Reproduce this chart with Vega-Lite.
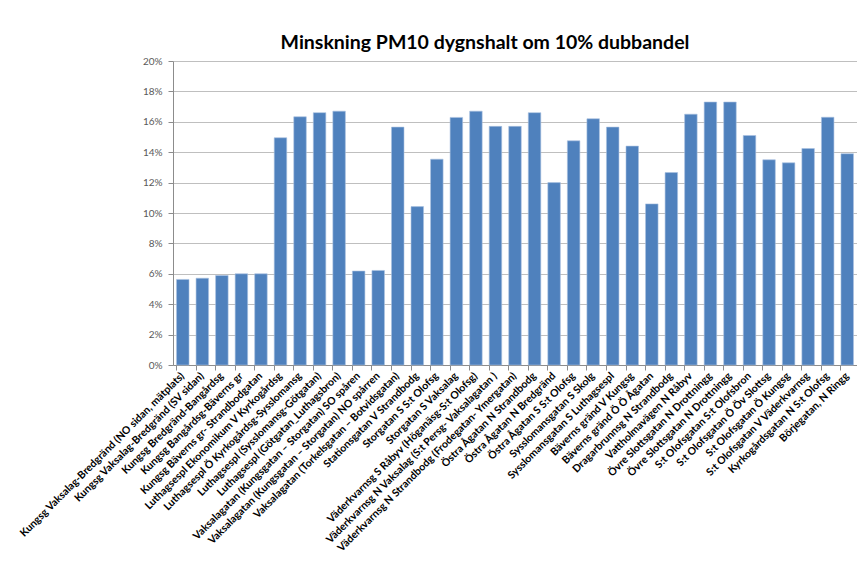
{
  "$schema": "https://vega.github.io/schema/vega-lite/v6.json",
  "width": 684,
  "height": 304,
  "autosize": {"type": "none"},
  "padding": {"left": 173, "top": 61, "right": 0, "bottom": 203},
  "background": "white",
  "title": {
    "text": "Minskning PM10 dygnshalt om 10% dubbandel",
    "font": "Lato",
    "fontSize": 19.5,
    "fontWeight": "bold",
    "color": "#000000",
    "anchor": "middle",
    "frame": "group",
    "dx": -30,
    "offset": 3
  },
  "data": {
    "values": [
      {"plats": "Kungsg Vaksalag-Bredgränd (NO sidan, mätplats)", "minskning": 0.0563},
      {"plats": "Kungsg Vaksalag-Bredgränd (SV sidan)", "minskning": 0.0571},
      {"plats": "Kungsg Bredgränd-Bangårdsg", "minskning": 0.0589},
      {"plats": "Kungsg Bangårdsg-Bäverns gr", "minskning": 0.0600},
      {"plats": "Kungsg Bäverns gr- Strandbodgatan", "minskning": 0.0600},
      {"plats": "Luthagsespl Ekonomikum V Kyrkogårdsg", "minskning": 0.1495},
      {"plats": "Luthagsespl  Ö Kyrkogårdsg-Sysslomansg", "minskning": 0.1633},
      {"plats": "Luthagsespl (Sysslomansg-Götgatan)", "minskning": 0.1660},
      {"plats": "Luthagsespl (Götgatan_Luthagsbron)", "minskning": 0.1670},
      {"plats": "Vaksalagatan  (Kungsgatan  – Storgatan) SO spåren", "minskning": 0.0618},
      {"plats": "Vaksalagatan  (Kungsgatan  – Storgatan) NO spårren", "minskning": 0.0622},
      {"plats": "Vaksalagatan  (Torkelsgatan – Botvidsgatan)", "minskning": 0.1565},
      {"plats": "Stationsgatan  V Strandbodg", "minskning": 0.1042},
      {"plats": "Storgatan  S S:t Olofsg", "minskning": 0.1354},
      {"plats": "Storgatan S Vaksalag", "minskning": 0.1629},
      {"plats": "Väderkvarnsg S Råbyv (Höganäsg-S:t Olofsg)", "minskning": 0.1670},
      {"plats": "Väderkvarnsg N Vaksalag   (S:t Persg- Vaksalagatan  )", "minskning": 0.1570},
      {"plats": "Väderkvarnsg N Strandbodg (Frodegatan- Ymergatan)", "minskning": 0.1570},
      {"plats": "Östra Ågatan N Strandbodg", "minskning": 0.1660},
      {"plats": "Östra Ågatan N Bredgränd", "minskning": 0.1200},
      {"plats": "Östra Ågatan S S:t Olofsg", "minskning": 0.1475},
      {"plats": "Sysslomansgatan  S Skolg", "minskning": 0.1620},
      {"plats": "Sysslomansgatan  S Luthagsespl", "minskning": 0.1565},
      {"plats": "Bäverns gränd V Kungsg", "minskning": 0.1440},
      {"plats": "Bäverns gränd Ö Ö Ågatan", "minskning": 0.1060},
      {"plats": "Dragarbrunnsg N Strandbodg", "minskning": 0.1266},
      {"plats": "Vattholmavägen  N Råbyv", "minskning": 0.1650},
      {"plats": "Övre Slottsgatan   N Drottningg", "minskning": 0.1730},
      {"plats": "Övre Slottsgatan   N Drottningg ", "minskning": 0.1730},
      {"plats": "S:t Olofsgatan  S:t Olofsbron", "minskning": 0.1510},
      {"plats": "S:t Olofsgatan  Ö Öv Slottsg", "minskning": 0.1350},
      {"plats": "S:t Olofsgatan  Ö Kungsg", "minskning": 0.1330},
      {"plats": "S:t Olofsgatan  V Väderkvarnsg", "minskning": 0.1424},
      {"plats": "Kyrkogårdsgatan N S:t Olofsg", "minskning": 0.1630},
      {"plats": "Börjegatan, N Ringg", "minskning": 0.1390}
    ]
  },
  "mark": {"type": "bar", "color": "#4f81bd", "stroke": "#a9c1e0", "strokeWidth": 0.6},
  "encoding": {
    "x": {
      "field": "plats",
      "type": "nominal",
      "sort": null,
      "scale": {"paddingInner": 0.36, "paddingOuter": 0.18},
      "axis": {
        "title": null,
        "labelAngle": -45,
        "labelAlign": "right",
        "labelBaseline": "middle",
        "labelFont": "Lato",
        "labelFontSize": 10.5,
        "labelFontWeight": "bold",
        "labelColor": "#000000",
        "labelLimit": 400,
        "labelPadding": 4,
        "labelOverlap": false,
        "ticks": true,
        "tickSize": 5,
        "tickColor": "#8c8c8c",
        "bandPosition": 0,
        "domainColor": "#8c8c8c",
        "grid": false
      }
    },
    "y": {
      "field": "minskning",
      "type": "quantitative",
      "scale": {"domain": [0, 0.2], "nice": false},
      "axis": {
        "title": null,
        "format": ".0%",
        "values": [0, 0.02, 0.04, 0.06, 0.08, 0.1, 0.12, 0.14, 0.16, 0.18, 0.2],
        "labelFont": "Lato",
        "labelFontSize": 10,
        "labelColor": "#595959",
        "labelPadding": 6,
        "tickSize": 5,
        "tickColor": "#8c8c8c",
        "domainColor": "#8c8c8c",
        "gridColor": "#bfbfbf",
        "gridWidth": 1
      }
    }
  },
  "config": {
    "view": {"stroke": null}
  }
}
